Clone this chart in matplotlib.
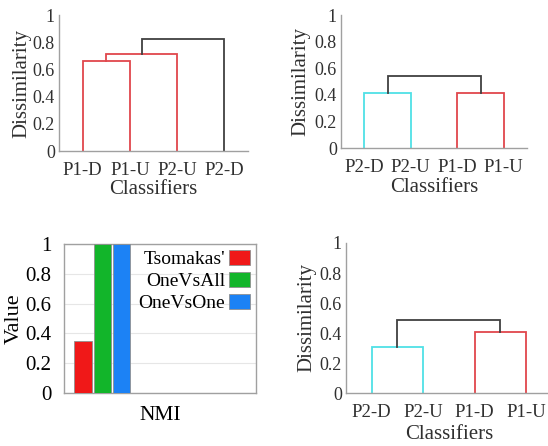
import matplotlib.pyplot as plt
import numpy as np

plt.rcParams['font.family'] = ['Liberation Serif', 'DejaVu Serif']

# dendrograma 1 (arriba izquierda)
hojas_1 = ['P1-D', 'P1-U', 'P2-U', 'P2-D']
uniones_1 = [(0, 1), (4, 2), (5, 3)]
alturas_1 = [0.66, 0.71, 0.82]
colores_1 = ['#e0474c', '#e0474c', '#404040']

# dendrograma 2 (arriba derecha)
hojas_2 = ['P2-D', 'P2-U', 'P1-D', 'P1-U']
uniones_2 = [(0, 1), (2, 3), (4, 5)]
alturas_2 = [0.41, 0.41, 0.54]
colores_2 = ['#4fe0e6', '#e0474c', '#404040']

# dendrograma 3 (abajo derecha)
hojas_3 = ['P2-D', 'P2-U', 'P1-D', 'P1-U']
uniones_3 = [(0, 1), (2, 3), (4, 5)]
alturas_3 = [0.31, 0.41, 0.49]
colores_3 = ['#4fe0e6', '#e0474c', '#404040']

# barras NMI
metodos = ["Tsomakas'", 'OneVsAll', 'OneVsOne']
valores_nmi = [0.35, 1.0, 1.0]
colores_nmi = ['#f01818', '#12b52a', '#1c82f5']

GRIS = '#a0a0a0'


def dendrograma(ax, hojas, uniones, alturas, colores, xmax=4.5):
    xs = list(range(1, len(hojas) + 1))
    ys = [0.0] * len(hojas)
    for (a, b), h, c in zip(uniones, alturas, colores):
        ax.plot([xs[a], xs[a], xs[b], xs[b]], [ys[a], h, h, ys[b]],
                color=c, lw=1.3, solid_joinstyle='miter')
        xs.append((xs[a] + xs[b]) / 2)
        ys.append(h)
    ax.set_xlim(0.5, xmax)
    ax.set_ylim(0, 1)
    ax.set_xticks(range(1, len(hojas) + 1))
    ax.set_xticklabels(hojas, fontsize=13.5)
    ax.set_yticks([0, 0.2, 0.4, 0.6, 0.8, 1])
    ax.set_yticklabels(['0', '0.2', '0.4', '0.6', '0.8', '1'], fontsize=13)
    ax.tick_params(axis='x', length=0, pad=8, colors='#303030')
    ax.tick_params(axis='y', length=0, pad=3, colors='#303030')
    for s in ['top', 'right']:
        ax.spines[s].set_visible(False)
    for s in ['left', 'bottom']:
        ax.spines[s].set_color(GRIS)
        ax.spines[s].set_linewidth(1.0)
    ax.set_xlabel('Classifiers', fontsize=15, color='#303030', labelpad=1)
    ax.set_ylabel('Dissimilarity', fontsize=15, color='#303030', labelpad=1)


W, H = 548, 446
fig = plt.figure(figsize=(W / 100, H / 100), dpi=100)


def caja(x0, x1, ytop, ybot):
    return [x0 / W, 1 - ybot / H, (x1 - x0) / W, (ybot - ytop) / H]


ax1 = fig.add_axes(caja(59, 248, 15, 151))
dendrograma(ax1, hojas_1, uniones_1, alturas_1, colores_1)

ax2 = fig.add_axes(caja(341, 527, 15, 148))
dendrograma(ax2, hojas_2, uniones_2, alturas_2, colores_2)
ax2.yaxis.labelpad = 3

ax4 = fig.add_axes(caja(346, 552, 243, 393))
dendrograma(ax4, hojas_3, uniones_3, alturas_3, colores_3)
ax4.xaxis.labelpad = 3
ax4.yaxis.labelpad = 2

# barras
ax3 = fig.add_axes(caja(64, 256, 244, 393))
ancho = 0.092
pos = [-0.40, -0.30, -0.20]
for p, v, c, m in zip(pos, valores_nmi, colores_nmi, metodos):
    ax3.bar(p, v, width=ancho, color=c, edgecolor='#909090', linewidth=0.6, label=m, zorder=3)
ax3.set_xlim(-0.5, 0.5)
ax3.set_ylim(0, 1)
ax3.set_xticks([0])
ax3.set_xticklabels(['NMI'], fontsize=15.5)
ax3.set_yticks([0, 0.2, 0.4, 0.6, 0.8, 1])
ax3.set_yticklabels(['0', '0.2', '0.4', '0.6', '0.8', '1'], fontsize=15)
ax3.tick_params(axis='x', length=0, pad=9)
ax3.tick_params(axis='y', length=0, pad=9)
ax3.grid(axis='y', color='#e6e6e6', lw=0.8, zorder=0)
for s in ax3.spines.values():
    s.set_color(GRIS)
    s.set_linewidth(1.0)
ax3.set_ylabel('Value', fontsize=16)
ax3.yaxis.set_label_coords(-0.21, 0.5)
ax3.legend(loc='upper right', frameon=False, markerfirst=False, fontsize=14,
           handlelength=1.1, handleheight=0.8, handletextpad=0.2,
           labelspacing=0.2, borderaxespad=0.0, borderpad=0.3)

fig.savefig('out.png', dpi=100)
